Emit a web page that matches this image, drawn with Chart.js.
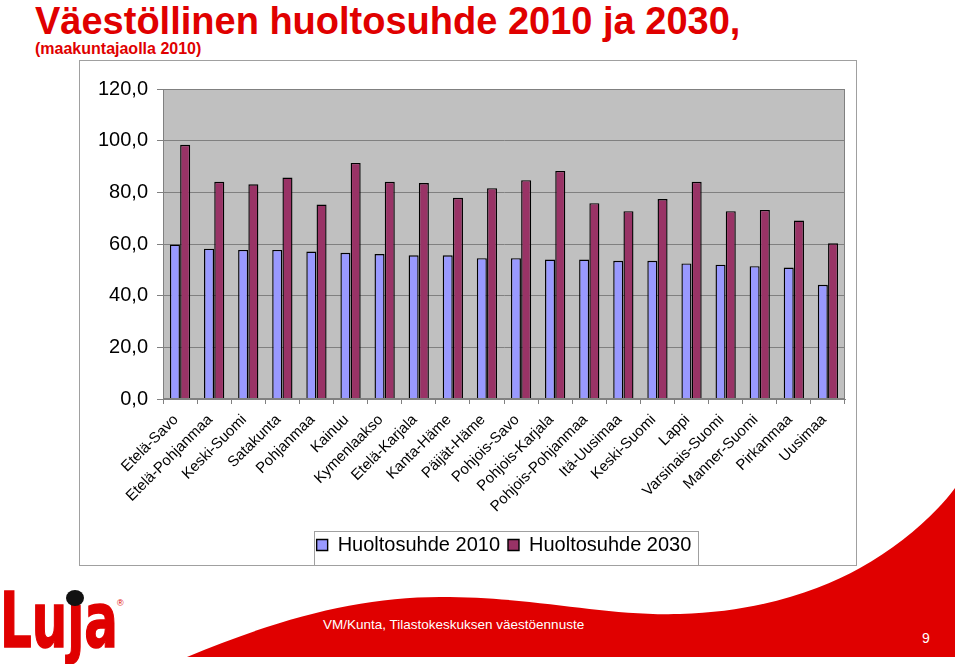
<!DOCTYPE html>
<html><head><meta charset="utf-8">
<script src="https://cdn.jsdelivr.net/npm/chart.js@4.4.0/dist/chart.umd.min.js"></script>
<style>
html,body{margin:0;padding:0;background:#fff;}
#page{position:relative;width:959px;height:664px;overflow:hidden;font-family:"Liberation Sans",Arial,sans-serif;}
.abs{position:absolute;white-space:nowrap;line-height:1;}
</style></head><body>
<div id="page">
<svg class="abs" style="left:0;top:0" width="959" height="664">
  <path d="M187,657 C280,618 360,597 440,597 C540,597 600,616 680,614 C760,612 820,590 860,568 C900,546 935,515 955,488 L955,657 Z" fill="#e00000"/>
  <text x="0" y="647" font-family="DejaVu Sans" font-weight="bold" font-size="76" textLength="118" lengthAdjust="spacingAndGlyphs" fill="#e00000" stroke="#e00000" stroke-width="1.5">Luȷa</text>
  <ellipse cx="75" cy="598" rx="9" ry="8" fill="#111"/>
  <text x="117" y="606" font-family="Liberation Sans" font-size="9" fill="#e00000">®</text>
</svg>
<div class="abs" style="left:35px;top:2px;font-size:38px;font-weight:bold;color:#e00000">Väestöllinen huoltosuhde 2010 ja 2030,</div>
<div class="abs" style="left:35px;top:41px;font-size:16px;font-weight:bold;color:#e00000">(maakuntajaolla 2010)</div>
<div class="abs" style="left:79px;top:60px;width:776px;height:504px;border:1px solid #a0a0a0;background:#fff"><canvas id="c" width="776" height="504"></canvas></div>
<div class="abs" style="left:323px;top:618px;font-size:13.5px;color:#fff">VM/Kunta, Tilastokeskuksen väestöennuste</div>
<div class="abs" style="left:922px;top:631px;font-size:14px;color:#fff">9</div>
</div>
<script>
const categories = ['Etelä-Savo','Etelä-Pohjanmaa','Keski-Suomi','Satakunta','Pohjanmaa','Kainuu','Kymenlaakso','Etelä-Karjala','Kanta-Häme','Päijät-Häme','Pohjois-Savo','Pohjois-Karjala','Pohjois-Pohjanmaa','Itä-Uusimaa','Keski-Suomi','Lappi','Varsinais-Suomi','Manner-Suomi','Pirkanmaa','Uusimaa'];
const huolto2010 = [59.8, 58.2, 57.7, 57.7, 57.1, 56.6, 56.1, 55.6, 55.6, 54.5, 54.5, 54.0, 54.0, 53.5, 53.5, 52.5, 52.0, 51.4, 50.9, 44.2];
const huolto2030 = [98.4, 84.1, 83.1, 85.7, 75.3, 91.4, 84.1, 83.6, 77.9, 81.6, 84.7, 88.3, 75.8, 72.7, 77.4, 84.1, 72.7, 73.2, 69.1, 60.3];
const yTickLabels = ['0,0','20,0','40,0','60,0','80,0','100,0','120,0'];
const seriesNames = ['Huoltosuhde 2010','Huoltosuhde 2030'];

Chart.defaults.font.family = '"Liberation Sans", Arial, sans-serif';

const frame = {
  id: 'frame',
  beforeDraw(chart) {
    const {ctx, chartArea: a} = chart;
    ctx.save();
    ctx.fillStyle = '#c0c0c0';
    ctx.fillRect(a.left, a.top, a.width, a.height);
    ctx.restore();
  },
  afterDraw(chart) {
    const {ctx, chartArea: a} = chart;
    ctx.save();
    ctx.strokeStyle = '#808080';
    ctx.lineWidth = 1;
    ctx.strokeRect(Math.round(a.left) + 0.5, Math.round(a.top) + 0.5, Math.round(a.width) - 1, Math.round(a.height) - 1);
    const hb = chart.legend.legendHitBoxes;
    if (hb && hb.length) {
      const last = hb[hb.length - 1];
      const x0 = hb[0].left - 3, x1 = last.left + last.width + 6;
      const y0 = hb[0].top - 4, y1 = hb[0].top + hb[0].height + 10;
      ctx.strokeStyle = '#a0a0a0';
      ctx.strokeRect(Math.round(x0) + 0.5, Math.round(y0) + 0.5, Math.round(x1 - x0), Math.round(y1 - y0));
    }
    ctx.restore();
  }
};

new Chart(document.getElementById('c'), {
  type: 'bar',
  data: {
    labels: categories,
    datasets: [
      {label: seriesNames[0], data: huolto2010, backgroundColor: '#9999ff', borderColor: '#000000', borderWidth: 1.4},
      {label: seriesNames[1], data: huolto2030, backgroundColor: '#993366', borderColor: '#000000', borderWidth: 1.4}
    ]
  },
  options: {
    responsive: false,
    devicePixelRatio: 1,
    animation: false,
    layout: {padding: {top: 28, right: 11, bottom: 0, left: 0}},
    datasets: {bar: {categoryPercentage: 0.6, barPercentage: 0.98}},
    plugins: {
      title: {display: false},
      tooltip: {enabled: false},
      legend: {
        position: 'bottom',
        fullSize: false,
        labels: {boxWidth: 11, boxHeight: 11, padding: 8, color: '#000', font: {size: 20}}
      }
    },
    scales: {
      x: {
        grid: {drawOnChartArea: false, drawTicks: true, tickLength: 5, color: '#808080', offset: true},
        border: {color: '#808080'},
        ticks: {autoSkip: false, minRotation: 45, maxRotation: 45, color: '#000', padding: 7, labelOffset: -4, font: {size: 15}},
        afterFit(s) { s.height = 128; }
      },
      y: {
        min: 0, max: 120,
        ticks: {stepSize: 20, color: '#000', padding: 9, font: {size: 20}, callback: (v) => yTickLabels[Math.round(v / 20)]},
        grid: {color: '#808080', tickLength: 6},
        border: {color: '#808080'},
        afterFit(s) { s.width = 83; }
      }
    }
  },
  plugins: [frame]
});
</script>
</body></html>
